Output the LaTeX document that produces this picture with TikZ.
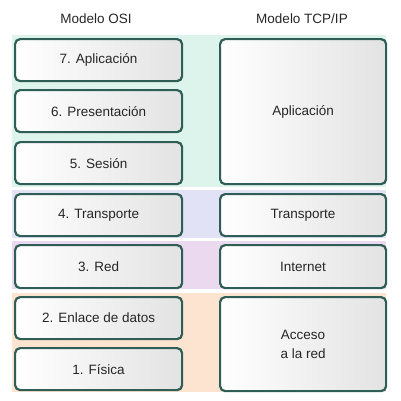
\documentclass[tikz,border=0pt]{standalone}
\usepackage{fontspec}
\setmainfont{Liberation Sans}
\usetikzlibrary{shadows}
\definecolor{bordc}{HTML}{2E5E55}
\definecolor{bandG}{HTML}{DDF4EC}
\definecolor{bandB}{HTML}{E2E2F6}
\definecolor{bandP}{HTML}{EBD9EF}
\definecolor{bandO}{HTML}{FDE4D0}
\definecolor{txtc}{HTML}{262626}
\tikzset{
  layer/.style={draw=bordc, line width=2.2pt, rounded corners=5pt,
    left color=white, right color=black!11, text=txtc, font=\fontsize{13.5}{16}\selectfont,
    inner sep=0pt, anchor=north west, align=center,
    drop shadow={shadow xshift=0.8pt, shadow yshift=-0.8pt, opacity=0.25}},
  title/.style={text=txtc, font=\fontsize{13.5}{16}\selectfont},
}
\newcommand{\lay}[6]{\node[layer, minimum width=#3pt, minimum height=#4pt] (#5) at (#1pt,-#2pt) {#6};}
\begin{document}
\begin{tikzpicture}
\useasboundingbox (0,0) rectangle (401pt,-400pt);
% bands
\fill[bandG] (12pt,-35pt) rectangle (386pt,-187pt);
\fill[bandB] (12pt,-190pt) rectangle (386pt,-238pt);
\fill[bandP] (12pt,-241pt) rectangle (386pt,-289pt);
\fill[bandO] (12pt,-293pt) rectangle (386pt,-392pt);
% titles
\node[title] (tosi) at (96pt,-19pt) {Modelo OSI};
\node[title] (ttcp) at (302pt,-19pt) {Modelo TCP/IP};
% OSI layers
\lay{14}{38}{167}{42}{o7}{7. Aplicación}
\lay{14}{89}{167}{42}{o6}{6. Presentación}
\lay{14}{141}{167}{42}{o5}{5. Sesión}
\lay{14}{193}{167}{42}{o4}{4. Transporte}
\lay{14}{244}{167}{43}{o3}{3. Red}
\lay{14}{296}{167}{42}{o2}{2. Enlace de datos}
\lay{14}{347}{167}{42}{o1}{1. Física}
% TCP/IP layers
\lay{219}{38}{166}{145}{t4}{Aplicación}
\lay{219}{193}{166}{42}{t3}{Transporte}
\lay{219}{244}{166}{43}{t2}{Internet}
\lay{219}{296}{166}{94}{t1}{Acceso\\[3pt]a la red}
\end{tikzpicture}
\end{document}
